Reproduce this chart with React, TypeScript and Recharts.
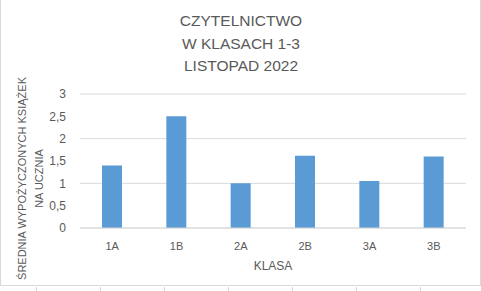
import { Bar, BarChart, CartesianGrid, XAxis, YAxis } from "recharts";

const CLASSES = ["1A", "1B", "2A", "2B", "3A", "3B"];
const AVERAGES = [1.4, 2.5, 1.0, 1.62, 1.05, 1.6];
const Y_TICKS = [0, 0.5, 1, 1.5, 2, 2.5, 3];
const TITLE_LINES = ["CZYTELNICTWO", "W KLASACH 1-3", "LISTOPAD 2022"];
const SHEET_COLUMNS = [36, 100, 164, 228, 292, 356, 420];

const FONT = '"Liberation Sans", Arial, sans-serif';
const INK = "#595959";

const data = CLASSES.map((name, i) => ({ name, value: AVERAGES[i] }));

const fmt = (v: number) => String(v).replace(".", ",");

export default function App() {
  return (
    <div
      style={{
        position: "absolute",
        left: 0,
        top: 0,
        width: 481,
        height: 291,
        background: "#fff",
        fontFamily: FONT,
      }}
    >
      <div
        style={{
          position: "absolute",
          left: 0,
          top: -2,
          width: 479,
          height: 287,
          borderLeft: "1px solid #D9D9D9",
          borderRight: "1px solid #D9D9D9",
          borderBottom: "1px solid #D9D9D9",
        }}
      />
      <BarChart
        width={481}
        height={291}
        data={data}
        margin={{ top: 94, right: 15, left: 0, bottom: 33 }}
        style={{ position: "absolute", left: 0, top: 0 }}
      >
        <CartesianGrid vertical={false} stroke="#D9D9D9" />
        <XAxis
          dataKey="name"
          height={30}
          axisLine={{ stroke: "#D9D9D9" }}
          tickLine={false}
          tickMargin={8}
          tick={{ fill: INK, fontSize: 11, fontFamily: FONT }}
        />
        <YAxis
          width={80}
          domain={[0, 3]}
          ticks={Y_TICKS}
          tickFormatter={fmt}
          axisLine={false}
          tickLine={false}
          tickMargin={8}
          tick={{ fill: INK, fontSize: 12, fontFamily: FONT }}
        />
        <Bar dataKey="value" fill="#5B9BD5" barSize={20} isAnimationActive={false} />
      </BarChart>
      <svg
        width={481}
        height={291}
        style={{ position: "absolute", left: 0, top: 0, pointerEvents: "none" }}
      >
        {TITLE_LINES.map((line, i) => (
          <text
            key={line}
            x={241}
            y={26 + i * 22.5}
            textAnchor="middle"
            fill={INK}
            fontSize={15.5}
            fontFamily={FONT}
          >
            {line}
          </text>
        ))}
        <text
          transform="translate(26,178.5) rotate(-90)"
          textAnchor="middle"
          fill={INK}
          fontSize={11}
          fontFamily={FONT}
        >
          ŚREDNIA WYPOŻYCZONYCH KSIĄŻEK
        </text>
        <text
          transform="translate(43,178.5) rotate(-90)"
          textAnchor="middle"
          fill={INK}
          fontSize={11}
          fontFamily={FONT}
        >
          NA UCZNIA
        </text>
        <text x={273} y={270} textAnchor="middle" fill={INK} fontSize={12} fontFamily={FONT}>
          KLASA
        </text>
        {SHEET_COLUMNS.map((x) => (
          <line key={x} x1={x + 0.5} x2={x + 0.5} y1={287} y2={291} stroke="#D4D4D4" />
        ))}
      </svg>
    </div>
  );
}
